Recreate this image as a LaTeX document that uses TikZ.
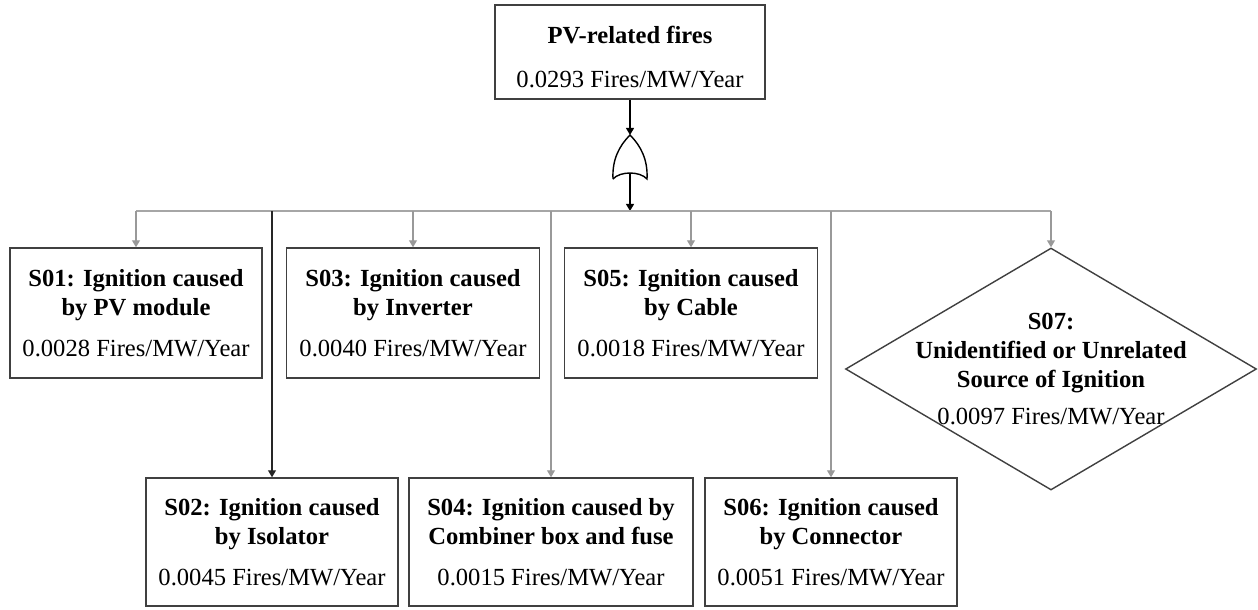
\documentclass[tikz,border=0pt]{standalone}
\usepackage{fontspec}
\setmainfont{Liberation Serif}
\usepackage{tikz}
\usetikzlibrary{arrows.meta}
\usetikzlibrary{shapes.geometric}

\tikzset{
	evbox/.style={draw=black!75, thick, rectangle, align=center, inner sep=2pt,
		font=\fontsize{14}{16.5}\selectfont},
	evtext/.style={align=center, inner sep=0pt, font=\fontsize{14}{16.5}\selectfont},
	bus/.style={draw=gray!70, thick},
	drop/.style={draw=gray!80, thick, -{Triangle[length=4pt,width=4.5pt]}},
	feed/.style={draw=black, thick, -{Triangle[length=4pt,width=4.5pt]}}
}

\begin{document}
\begin{tikzpicture}[x=0.02cm, y=-0.02cm]
	\useasboundingbox (0,0) rectangle (1258,609);

	% Top event %
	\node [evbox, minimum width=5.4cm, minimum height=1.88cm] (top) at (630,52)
		{\rule{0pt}{16pt}\textbf{PV-related fires}\\[8.5pt]0.0293 Fires/MW/Year};
	% OR gate %
	\coordinate (gtop) at (630,135);
	\coordinate (gbot) at (630,173);
	\draw [thick] (613,179) .. controls (612,160) and (619,146) .. (gtop)
		.. controls (641,146) and (648,160) .. (647,179)
		.. controls (640,171) and (620,171) .. (613,179);
	\draw [feed] (top.south) -- (gtop);
	\coordinate (bus) at (630,211);
	\draw [feed] (gbot) -- (bus);
	% Top row %
	\node [evbox, minimum width=5.04cm, minimum height=2.6cm] (s01) at (136,313)
		{\textbf{S01: Ignition caused}\\\textbf{by PV module}\\[7pt]0.0028 Fires/MW/Year};
	\node [evbox, minimum width=5.06cm, minimum height=2.6cm] (s03) at (413,313)
		{\textbf{S03: Ignition caused}\\\textbf{by Inverter}\\[7pt]0.0040 Fires/MW/Year};
	\node [evbox, minimum width=5.06cm, minimum height=2.6cm] (s05) at (691,313)
		{\textbf{S05: Ignition caused}\\\textbf{by Cable}\\[7pt]0.0018 Fires/MW/Year};
	\node [draw=black!75, thick, diamond, minimum width=8.22cm, minimum height=4.84cm,
		inner sep=0pt] (s07) at (1051,369) {};
	\node [evtext] (s07txt) at (s07.center)
		{\textbf{S07:}\\\textbf{Unidentified or Unrelated}\\\textbf{Source of Ignition}\\[5pt]0.0097 Fires/MW/Year};
	% Bottom row %
	\node [evbox, minimum width=5.04cm, minimum height=2.56cm] (s02) at (272,542)
		{\textbf{S02: Ignition caused}\\\textbf{by Isolator}\\[7pt]0.0045 Fires/MW/Year};
	\node [evbox, minimum width=5.68cm, minimum height=2.56cm] (s04) at (551,542)
		{\textbf{S04: Ignition caused by}\\\textbf{Combiner box and fuse}\\[7pt]0.0015 Fires/MW/Year};
	\node [evbox, minimum width=5.04cm, minimum height=2.56cm] (s06) at (831,542)
		{\textbf{S06: Ignition caused}\\\textbf{by Connector}\\[7pt]0.0051 Fires/MW/Year};
	% Branches %
	\draw [bus] (s01.north |- bus) -- (s07.north |- bus);
	\foreach \n in {s01, s03, s04, s05, s06, s07}
		\draw [drop] (\n.north |- bus) -- (\n.north);
	\draw [drop, draw=black!85] (s02.north |- bus) -- (s02.north);
\end{tikzpicture}
\end{document}
